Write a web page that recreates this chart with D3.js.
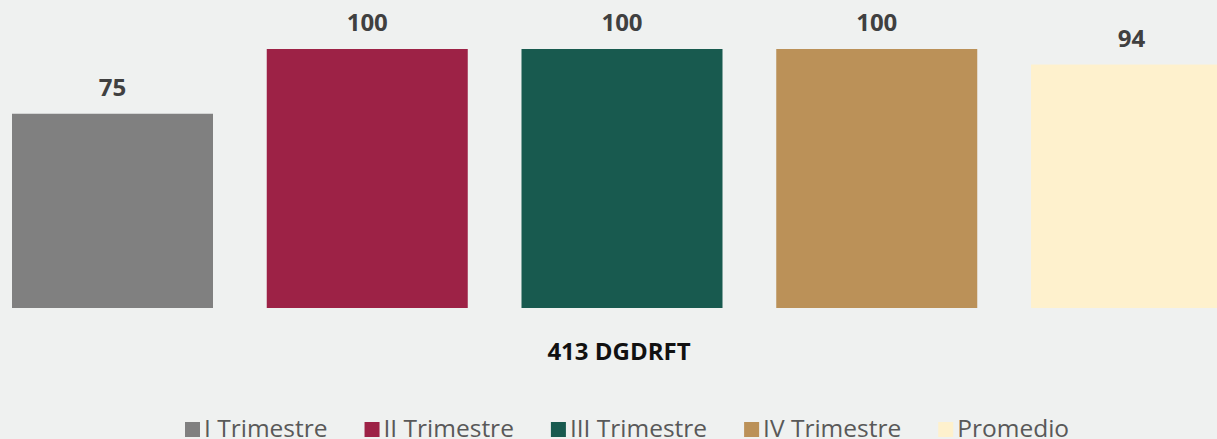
<!DOCTYPE html>
<html>
<head>
<meta charset="utf-8">
<script src="https://cdn.jsdelivr.net/npm/d3@7"></script>
<style>
  html, body { margin: 0; padding: 0; background: #eff1f0; overflow: hidden; }
  svg { display: block; font-family: "Open Sans", "Noto Sans", sans-serif; }
</style>
</head>
<body>
<svg id="chart" width="1217" height="439"></svg>
<script>
// chart data
const category = "413 DGDRFT";
const seriesNames = ["I Trimestre", "II Trimestre", "III Trimestre", "IV Trimestre", "Promedio"];
const seriesValues = [75, 100, 100, 100, 94];
const seriesColors = ["#808080", "#9d2246", "#185a4f", "#bb9158", "#fef1cd"];

const svg = d3.select("#chart");

const plotBottom = 308;
const plotTop = 49; // where 100 lands

// one band per series inside the single category
const x = d3.scaleBand()
  .domain(seriesNames)
  .range([12, 1232])
  .paddingInner(0.211)
  .paddingOuter(0);

const y = d3.scaleLinear().domain([0, 100]).range([plotBottom, plotTop]);

const bars = svg.append("g").attr("class", "bars");

bars.selectAll("rect")
  .data(seriesNames)
  .enter()
  .append("rect")
  .attr("x", (d) => x(d))
  .attr("y", (d, i) => y(seriesValues[i]))
  .attr("width", x.bandwidth())
  .attr("height", (d, i) => y(0) - y(seriesValues[i]))
  .attr("fill", (d, i) => seriesColors[i]);

bars.selectAll("text")
  .data(seriesNames)
  .enter()
  .append("text")
  .attr("x", (d) => x(d) + x.bandwidth() / 2)
  .attr("y", (d, i) => y(seriesValues[i]) - 18)
  .attr("text-anchor", "middle")
  .attr("font-size", "24px")
  .attr("font-weight", "bold")
  .attr("fill", "#404040")
  .text((d, i) => seriesValues[i]);

// category label
svg.append("text")
  .attr("x", 619)
  .attr("y", 360)
  .attr("text-anchor", "middle")
  .attr("font-size", "24px")
  .attr("font-weight", "bold")
  .attr("fill", "#111")
  .text(category);

// legend, laid out left to right using measured text widths
const legend = svg.append("g").attr("class", "legend");
let lx = 185;
seriesNames.forEach((name, i) => {
  legend.append("rect")
    .attr("x", lx)
    .attr("y", 422)
    .attr("width", 15)
    .attr("height", 15)
    .attr("fill", seriesColors[i]);
  const t = legend.append("text")
    .attr("x", lx + 19)
    .attr("y", 437)
    .attr("font-size", "24.5px")
    .attr("fill", "#595959")
    .text(name);
  lx += 19 + t.node().getComputedTextLength() + 37;
});
</script>
</body>
</html>
